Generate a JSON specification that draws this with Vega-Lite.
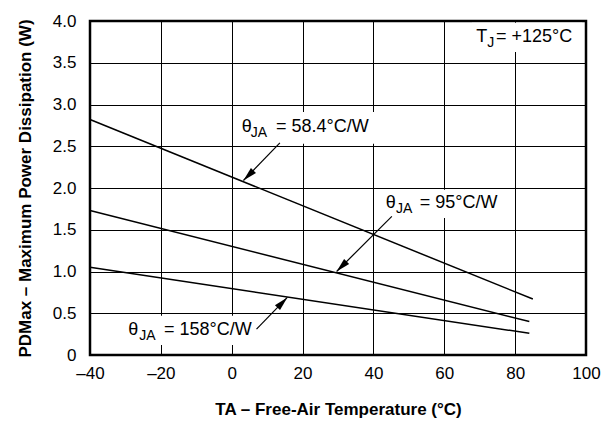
{
  "$schema": "https://vega.github.io/schema/vega-lite/v6.json",
  "width": 496,
  "height": 334,
  "autosize": {"type": "none"},
  "padding": {"left": 90, "top": 21, "right": 17, "bottom": 66},
  "background": "white",
  "config": {
    "font": "Liberation Sans",
    "view": {"stroke": "black", "strokeWidth": 2.5},
    "axis": {
      "grid": true,
      "gridColor": "black",
      "gridOpacity": 1,
      "gridWidth": 1,
      "domain": false,
      "ticks": false,
      "labelFont": "Liberation Sans",
      "labelFontSize": 17,
      "labelColor": "black",
      "labelFlush": false,
      "labelOverlap": false,
      "labelBound": false,
      "titleFont": "Liberation Sans",
      "titleFontSize": 17,
      "titleFontWeight": "bold",
      "titleColor": "black"
    }
  },
  "datasets": {
    "lines": [
      {"theta": "58.4", "x": -40, "y": 2.82},
      {"theta": "58.4", "x": 85, "y": 0.67},
      {"theta": "95", "x": -40, "y": 1.73},
      {"theta": "95", "x": 84, "y": 0.40},
      {"theta": "158", "x": -40, "y": 1.05},
      {"theta": "158", "x": 84, "y": 0.26}
    ],
    "boxes": [
      {"x": 1.2, "x2": 40.7, "y": 2.53, "y2": 2.91},
      {"x": 42.7, "x2": 76.6, "y": 1.64, "y2": 1.98},
      {"x": -30.1, "x2": 7.1, "y": 0.12, "y2": 0.47},
      {"x": 67.8, "x2": 98.9, "y": 3.63, "y2": 3.98}
    ],
    "arrows": [
      {"label": "58.4", "x": 13.6, "y": 2.54, "x2": 3.3, "y2": 2.09},
      {"label": "95", "x": 45.2, "y": 1.66, "x2": 29.6, "y2": 1.0},
      {"label": "158", "x": 7.0, "y": 0.31, "x2": 15.7, "y2": 0.69}
    ],
    "maintext": [
      {"x": 2.8, "y": 2.73, "t": "θ"},
      {"x": 12.5, "y": 2.73, "t": "= 58.4°C/W"},
      {"x": 43.5, "y": 1.82, "t": "θ"},
      {"x": 53.1, "y": 1.82, "t": "= 95°C/W"},
      {"x": -29.2, "y": 0.30, "t": "θ"},
      {"x": -19.1, "y": 0.30, "t": "= 158°C/W"},
      {"x": 69.0, "y": 3.81, "t": "T"},
      {"x": 74.6, "y": 3.81, "t": "= +125°C"}
    ],
    "subtext": [
      {"x": 5.4, "y": 2.73, "t": "JA"},
      {"x": 46.4, "y": 1.82, "t": "JA"},
      {"x": -26.1, "y": 0.30, "t": "JA"},
      {"x": 72.1, "y": 3.81, "t": "J"}
    ]
  },
  "layer": [
    {
      "data": {"name": "boxes"},
      "mark": {"type": "rect", "color": "white", "opacity": 1},
      "encoding": {
        "x": {
          "field": "x", "type": "quantitative",
          "scale": {"domain": [-40, 100], "nice": false, "zero": false},
          "axis": {
            "values": [-40, -20, 0, 20, 40, 60, 80, 100],
            "labelPadding": 10,
            "labelExpr": "datum.value < 0 ? '–' + format(-datum.value, 'd') : format(datum.value, 'd')",
            "title": "TA – Free-Air Temperature (°C)",
            "titlePadding": 20
          }
        },
        "x2": {"field": "x2"},
        "y": {
          "field": "y", "type": "quantitative",
          "scale": {"domain": [0, 4], "nice": false, "zero": false},
          "axis": {
            "values": [0, 0.5, 1, 1.5, 2, 2.5, 3, 3.5, 4],
            "labelPadding": 14,
            "labelExpr": "datum.value == 0 ? '0' : format(datum.value, '.1f')",
            "title": "PDMax – Maximum Power Dissipation (W)",
            "titlePadding": 18
          }
        },
        "y2": {"field": "y2"}
      }
    },
    {
      "data": {"name": "lines"},
      "mark": {"type": "line", "color": "black", "strokeWidth": 1.5},
      "encoding": {
        "x": {"field": "x", "type": "quantitative"},
        "y": {"field": "y", "type": "quantitative"},
        "detail": {"field": "theta"}
      }
    },
    {
      "data": {"name": "arrows"},
      "mark": {"type": "rule", "color": "black", "strokeWidth": 1.2},
      "encoding": {
        "x": {"field": "x", "type": "quantitative"},
        "y": {"field": "y", "type": "quantitative"},
        "x2": {"field": "x2"},
        "y2": {"field": "y2"}
      }
    },
    {
      "data": {"name": "arrows"},
      "transform": [{"filter": "datum.label != '158'"}],
      "mark": {"type": "point", "shape": "M0,0L-0.6,2.4L0.6,2.4Z", "filled": true, "color": "black", "opacity": 1, "size": 140, "angle": 225},
      "encoding": {
        "x": {"field": "x2", "type": "quantitative"},
        "y": {"field": "y2", "type": "quantitative"}
      }
    },
    {
      "data": {"name": "arrows"},
      "transform": [{"filter": "datum.label == '158'"}],
      "mark": {"type": "point", "shape": "M0,0L-0.6,2.4L0.6,2.4Z", "filled": true, "color": "black", "opacity": 1, "size": 140, "angle": 44},
      "encoding": {
        "x": {"field": "x2", "type": "quantitative"},
        "y": {"field": "y2", "type": "quantitative"}
      }
    },
    {
      "data": {"name": "maintext"},
      "mark": {"type": "text", "align": "left", "baseline": "middle", "fontSize": 18, "color": "black", "font": "Liberation Sans"},
      "encoding": {
        "x": {"field": "x", "type": "quantitative"},
        "y": {"field": "y", "type": "quantitative"},
        "text": {"field": "t"}
      }
    },
    {
      "data": {"name": "subtext"},
      "mark": {"type": "text", "align": "left", "baseline": "middle", "fontSize": 14, "dy": 6, "color": "black", "font": "Liberation Sans"},
      "encoding": {
        "x": {"field": "x", "type": "quantitative"},
        "y": {"field": "y", "type": "quantitative"},
        "text": {"field": "t"}
      }
    }
  ]
}
